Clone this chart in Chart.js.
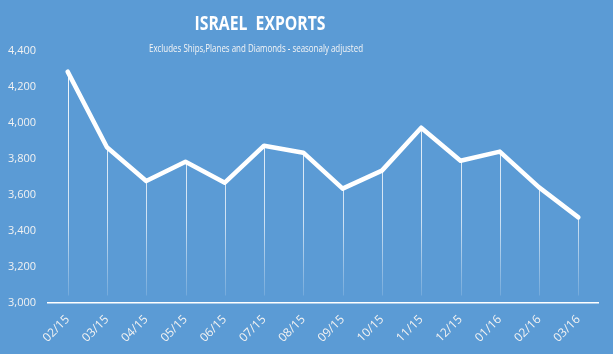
<!DOCTYPE html>
<html>
<head>
<meta charset="utf-8">
<script src="https://cdn.jsdelivr.net/npm/chart.js@4"></script>
<style>
  html, body { margin: 0; padding: 0; background: #5b9bd5; }
  #wrap { width: 613px; height: 354px; }
</style>
</head>
<body>
<div id="wrap"><canvas id="myChart"></canvas></div>
<script>
// datos
const meses = ['02/15', '03/15', '04/15', '05/15', '06/15', '07/15', '08/15',
               '09/15', '10/15', '11/15', '12/15', '01/16', '02/16', '03/16'];
const exportaciones = [4285, 3864, 3676, 3784, 3667, 3873, 3834,
                       3634, 3734, 3973, 3789, 3840, 3641, 3474];
const ejeMin = 3000;
const ejeMax = 4400;
const ejePaso = 200;

const titulo = 'ISRAEL  EXPORTS';
const subtitulo = 'Excludes Ships,Planes and Diamonds - seasonaly adjusted';

// texto ajustado a un ancho dado (la fuente original es mas estrecha)
function textoAjustado(ctx, txt, cx, y, ancho) {
  const w = ctx.measureText(txt).width;
  const s = Math.min(1, ancho / w);
  ctx.save();
  ctx.translate(cx, y);
  ctx.scale(s, 1);
  ctx.textAlign = 'center';
  ctx.fillText(txt, 0, 0);
  ctx.restore();
}

const fondo = {
  id: 'fondo',
  beforeDraw(chart) {
    const ctx = chart.ctx;
    ctx.save();
    ctx.fillStyle = '#5b9bd5';
    ctx.fillRect(0, 0, chart.width, chart.height);
    ctx.restore();
  }
};

const titulos = {
  id: 'titulos',
  afterDraw(chart) {
    const ctx = chart.ctx;
    ctx.save();
    ctx.fillStyle = '#ffffff';
    ctx.textBaseline = 'alphabetic';
    ctx.font = 'bold 19px "Open Sans"';
    textoAjustado(ctx, titulo, 260, 30, 131);
    ctx.fillStyle = '#f5f5f5';
    ctx.font = '10px "Open Sans"';
    textoAjustado(ctx, subtitulo, 256, 52, 214);
    ctx.restore();
  }
};

// lineas verticales desde cada punto hasta el eje
const lineasCaida = {
  id: 'lineasCaida',
  beforeDatasetsDraw(chart) {
    const ctx = chart.ctx;
    const x = chart.scales.x;
    const y = chart.scales.y;
    const fin = chart.chartArea.bottom - 7;
    const grad = ctx.createLinearGradient(0, chart.chartArea.top, 0, fin);
    grad.addColorStop(0, 'rgba(255,255,255,0.95)');
    grad.addColorStop(0.7, 'rgba(255,255,255,0.7)');
    grad.addColorStop(1, 'rgba(255,255,255,0.15)');
    ctx.save();
    ctx.strokeStyle = grad;
    ctx.lineWidth = 1;
    exportaciones.forEach((v, i) => {
      const px = Math.round(x.getPixelForValue(i)) + 0.5;
      ctx.beginPath();
      ctx.moveTo(px, y.getPixelForValue(v));
      ctx.lineTo(px, fin);
      ctx.stroke();
    });
    ctx.restore();
  }
};

const data = {
  labels: meses,
  datasets: [{
    label: 'Exports',
    data: exportaciones,
    borderColor: '#ffffff',
    borderWidth: 4.5,
    borderCapStyle: 'round',
    borderJoinStyle: 'round',
    pointRadius: 0,
    fill: false,
    tension: 0
  }]
};

const config = {
  type: 'line',
  data: data,
  options: {
    responsive: true,
    maintainAspectRatio: false,
    animation: false,
    layout: { padding: { top: 51, right: 15, left: 0, bottom: 0 } },
    plugins: {
      legend: { display: false },
      tooltip: { enabled: false }
    },
    scales: {
      x: {
        offset: true,
        grid: { display: false },
        border: { display: true, color: '#ffffff', width: 1.5 },
        ticks: {
          color: '#f2f2f2',
          font: { family: 'Open Sans', size: 12 },
          minRotation: 45,
          maxRotation: 45,
          autoSkip: false,
          padding: 2
        },
        afterFit(scale) { scale.height = 51.5; }
      },
      y: {
        min: ejeMin,
        max: ejeMax,
        grid: { display: false },
        border: { display: false },
        ticks: {
          stepSize: ejePaso,
          color: '#f2f2f2',
          font: { family: 'Open Sans', size: 11 },
          padding: 4,
          callback: v => v.toLocaleString('en-US')
        },
        afterFit(scale) { scale.width = 48; }
      }
    }
  },
  plugins: [fondo, lineasCaida, titulos]
};

const ctx = document.getElementById('myChart').getContext('2d');
const myChart = new Chart(ctx, config);
</script>
</body>
</html>
